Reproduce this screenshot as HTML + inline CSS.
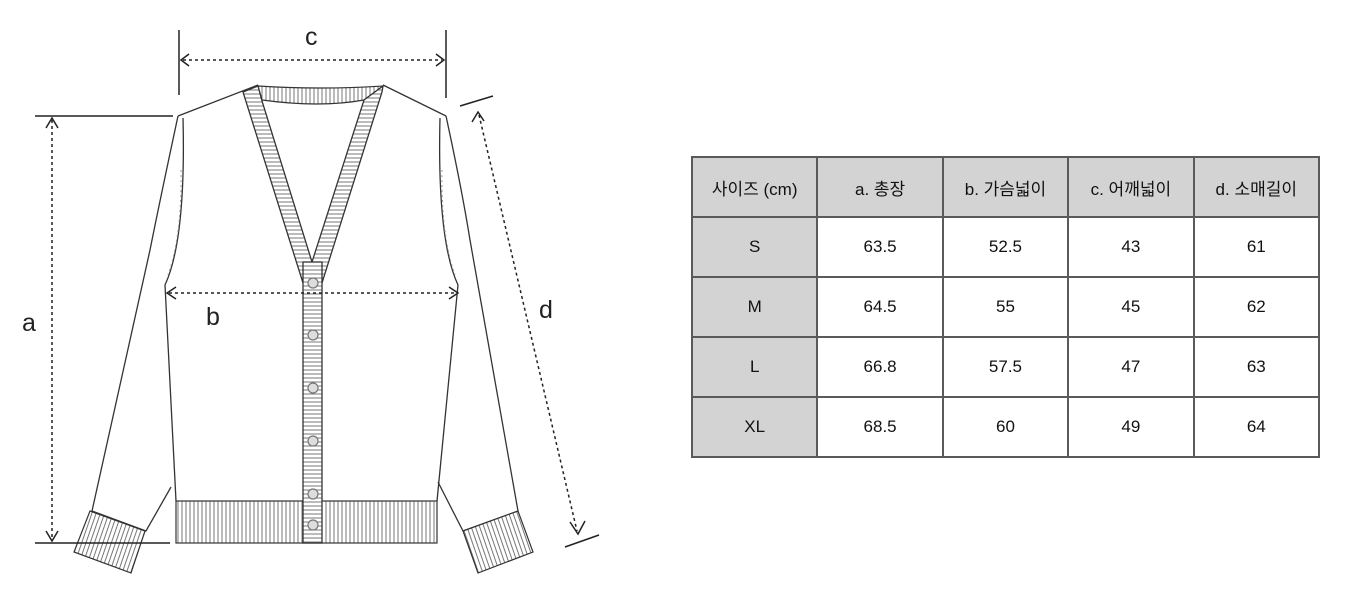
<!DOCTYPE html>
<html><head><meta charset="utf-8"><style>
body{margin:0;background:#fff;width:1352px;height:608px;overflow:hidden;position:relative;font-family:"Liberation Sans","Noto Sans CJK KR",sans-serif}
svg{position:absolute;left:0;top:0}
table{position:absolute;left:691px;top:156px;border-collapse:collapse;width:629px;height:301px;table-layout:fixed}
tr{height:60px}
td{border:2px solid #5a5a5a;text-align:center;font-size:17px;color:#111;padding:0;width:20%}
td.g{background:#d3d3d3}
</style></head><body>
<svg width="1352" height="608" viewBox="0 0 1352 608">
<defs>
<pattern id="h" width="4" height="4" patternUnits="userSpaceOnUse"><rect width="4" height="4" fill="#fff"/><line x1="0" y1="2" x2="4" y2="2" stroke="#777" stroke-width="1"/></pattern>
<pattern id="v" width="4" height="4" patternUnits="userSpaceOnUse"><rect width="4" height="4" fill="#fff"/><line x1="2" y1="0" x2="2" y2="4" stroke="#777" stroke-width="1"/></pattern>
<pattern id="vl" width="4" height="4" patternUnits="userSpaceOnUse" patternTransform="rotate(19)"><rect width="4" height="4" fill="#fff"/><line x1="2" y1="0" x2="2" y2="4" stroke="#777" stroke-width="1"/></pattern>
<pattern id="vr" width="4" height="4" patternUnits="userSpaceOnUse" patternTransform="rotate(-19)"><rect width="4" height="4" fill="#fff"/><line x1="2" y1="0" x2="2" y2="4" stroke="#777" stroke-width="1"/></pattern>
</defs>
<g fill="none" stroke="#333" stroke-width="1.3">
<path d="M178,116 Q160,200 150,250 L92,511 L146,531 L171,487"/>
<path d="M446,116 Q462,190 470,240 L518,511 L463,531 L438,482"/>
<path d="M178,116 L258,85 M383,85 L446,116"/>
<path d="M183,118 Q186,240 165,285 L176,501"/>
<path d="M440,118 Q437,240 458,285 L437,501"/>
</g>
<g stroke="#999" stroke-width="1" fill="none" stroke-dasharray="2,3">
<path d="M181,170 Q182,235 168,275"/><path d="M442,170 Q441,235 455,275"/>
</g>
<polygon points="90,511 145,531 131,573 74,552" fill="url(#vl)" stroke="#333" stroke-width="1.2"/>
<polygon points="463,531 518,511 533,552 478,573" fill="url(#vr)" stroke="#333" stroke-width="1.2"/>
<rect x="176" y="501" width="261" height="42" fill="url(#v)" stroke="#333" stroke-width="1.2"/>
<path d="M258,86 Q320,90 383,86 L364,100 Q320,108 262,100 Z" fill="url(#v)" stroke="#333" stroke-width="1.2"/>
<polygon points="243,92 258,86 262,101 312,262 303,283" fill="url(#h)" stroke="#333" stroke-width="1.3"/>
<polygon points="383,86 382,92 322,283 312,262 364,100" fill="url(#h)" stroke="#333" stroke-width="1.3"/>
<rect x="303" y="262" width="19" height="281" fill="url(#h)" stroke="#333" stroke-width="1.3"/>
<g fill="#ddd" stroke="#777" stroke-width="1.2">
<circle cx="313" cy="283" r="5"/><circle cx="313" cy="335" r="5"/><circle cx="313" cy="388" r="5"/><circle cx="313" cy="441" r="5"/><circle cx="313" cy="494" r="5"/><circle cx="313" cy="525" r="5"/>
</g>
<g stroke="#222" stroke-width="1.5" fill="none">
<line x1="179" y1="30" x2="179" y2="95"/><line x1="446" y1="30" x2="446" y2="98"/>
<line x1="35" y1="116" x2="173" y2="116"/><line x1="35" y1="543" x2="170" y2="543"/>
<line x1="460" y1="106" x2="493" y2="96"/><line x1="565" y1="547" x2="599" y2="535"/>
</g>
<g stroke="#222" stroke-width="1.5" fill="none" stroke-dasharray="3,3">
<line x1="183" y1="60" x2="442" y2="60"/>
<line x1="52" y1="120" x2="52" y2="539"/>
<line x1="169" y1="293" x2="455" y2="293"/>
<line x1="479" y1="115" x2="577" y2="531"/>
</g>
<g stroke="#222" stroke-width="1.5" fill="none">
<path d="M189,54 L181,60 L189,66"/><path d="M436,54 L444,60 L436,66"/>
<path d="M46,128 L52,118 L58,128"/><path d="M46,531 L52,541 L58,531"/>
<path d="M176,287 L167,293 L176,299"/><path d="M449,287 L458,293 L449,299"/>
<path d="M472,122 L478,112 L484,121"/><path d="M570,522 L578,534 L585,521"/>
</g>
<g font-family="Liberation Sans, sans-serif" font-size="25" fill="#222">
<text x="305" y="45">c</text><text x="22" y="331">a</text><text x="206" y="325">b</text><text x="539" y="318">d</text>
</g>
</svg>
<table>
<tr><td class="g">사이즈 (cm)</td><td class="g">a. 총장</td><td class="g">b. 가슴넓이</td><td class="g">c. 어깨넓이</td><td class="g">d. 소매길이</td></tr>
<tr><td class="g">S</td><td>63.5</td><td>52.5</td><td>43</td><td>61</td></tr>
<tr><td class="g">M</td><td>64.5</td><td>55</td><td>45</td><td>62</td></tr>
<tr><td class="g">L</td><td>66.8</td><td>57.5</td><td>47</td><td>63</td></tr>
<tr><td class="g">XL</td><td>68.5</td><td>60</td><td>49</td><td>64</td></tr>
</table>
</body></html>
